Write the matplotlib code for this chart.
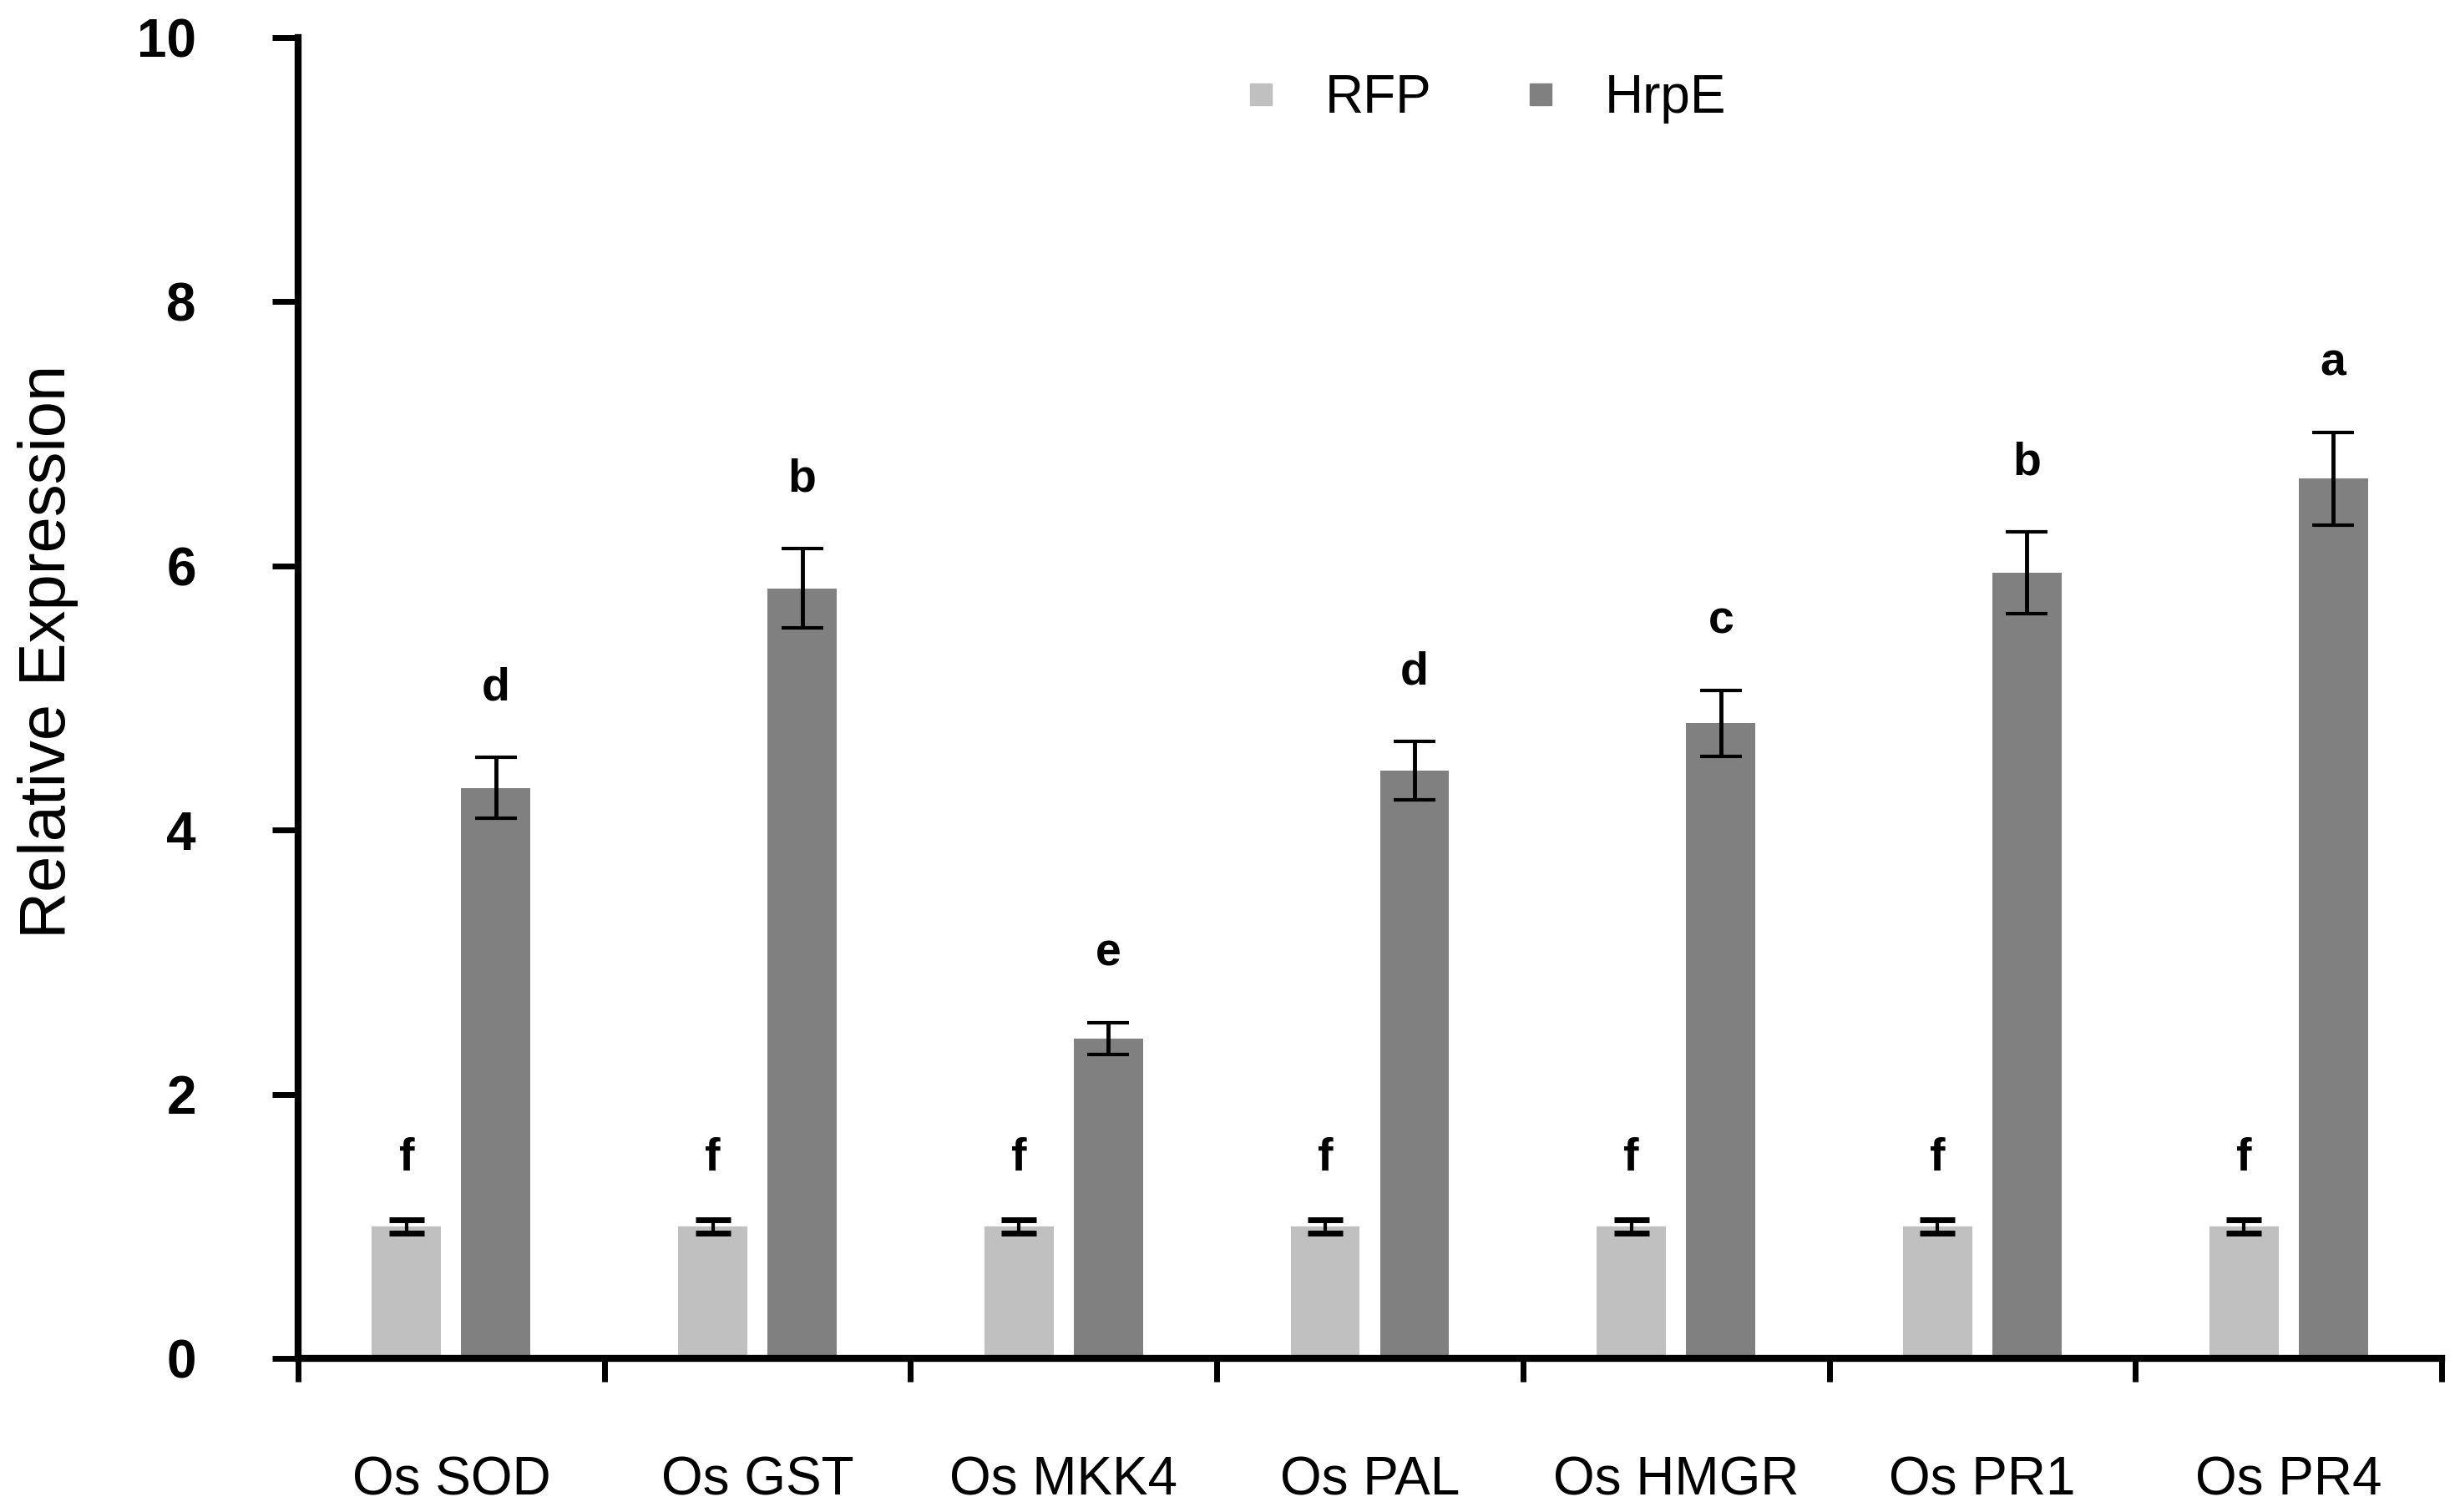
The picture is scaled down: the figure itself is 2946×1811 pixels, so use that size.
import matplotlib
matplotlib.use("Agg")
import matplotlib.pyplot as plt
import numpy as np
from matplotlib.lines import Line2D

categories = ["Os SOD", "Os GST", "Os MKK4", "Os PAL", "Os HMGR", "Os PR1", "Os PR4"]
rfp_values = [1.0, 1.0, 1.0, 1.0, 1.0, 1.0, 1.0]
rfp_errors = [0.05, 0.05, 0.05, 0.05, 0.05, 0.05, 0.05]
hrpe_values = [4.32, 5.83, 2.42, 4.45, 4.81, 5.95, 6.66]
hrpe_errors = [0.23, 0.30, 0.12, 0.22, 0.25, 0.31, 0.35]
rfp_letters = ["f", "f", "f", "f", "f", "f", "f"]
hrpe_letters = ["d", "b", "e", "d", "c", "b", "a"]
y_ticks = [0, 2, 4, 6, 8, 10]

plt.rcParams['font.family'] = ['Liberation Sans', 'DejaVu Sans']

W, H = 2946, 1811
fig = plt.figure(figsize=(W / 100, H / 100), dpi=100)
ax = fig.add_axes([357 / W, 1 - 1627 / H, (2924 - 357) / W, (1627 - 45) / H])

x = np.arange(len(categories))
bw = 0.226
off = 0.146
c_rfp = "#c0c0c0"
c_hrpe = "#808080"

ax.bar(x - off, rfp_values, bw, color=c_rfp, zorder=2)
ax.bar(x + off, hrpe_values, bw, color=c_hrpe, zorder=2)
ax.errorbar(x - off, rfp_values, yerr=rfp_errors, fmt="none", ecolor="black",
            elinewidth=3, capsize=15, capthick=5, zorder=3)
ax.errorbar(x + off, hrpe_values, yerr=hrpe_errors, fmt="none", ecolor="black",
            elinewidth=3.5, capsize=18, capthick=3, zorder=3)

for xi, v, e, t in zip(x - off, rfp_values, rfp_errors, rfp_letters):
    ax.text(xi, v + e + 0.46, t, ha="center", va="center", fontsize=40,
            fontweight="bold")
for xi, v, e, t in zip(x + off, hrpe_values, hrpe_errors, hrpe_letters):
    ax.text(xi, v + e + 0.52, t, ha="center", va="center", fontsize=40,
            fontweight="bold")

ax.set_xlim(-0.5, len(categories) - 0.5)
ax.set_ylim(0, 10)

for s in ["top", "right"]:
    ax.spines[s].set_visible(False)
for s in ["left", "bottom"]:
    ax.spines[s].set_linewidth(6)

ax.set_yticks(y_ticks)
ax.set_yticklabels([str(t) for t in y_ticks], fontsize=46, fontweight="bold")
ax.tick_params(axis="y", direction="out", length=22, width=5, pad=66)

ax.set_xticks(x)
ax.set_xticklabels(categories, fontsize=46)
ax.tick_params(axis="x", which="major", length=0, pad=84)
ax.set_xticks(np.arange(-0.5, len(categories), 1.0), minor=True)
ax.tick_params(axis="x", which="minor", direction="out", length=20, width=5)

fig.text(58 / W, 1 - 780 / H, "Relative Expression", rotation=90,
         ha="center", va="center", fontsize=56)

handles = [Line2D([], [], marker="s", linestyle="none", markersize=19,
                  markerfacecolor=c_rfp, markeredgecolor=c_rfp),
           Line2D([], [], marker="s", linestyle="none", markersize=19,
                  markerfacecolor=c_hrpe, markeredgecolor=c_hrpe)]
leg = ax.legend(handles, ["RFP", "HrpE"], loc="center",
                bbox_to_anchor=((1779 - 357) / 2567, (1627 - 118) / 1582),
                ncol=2, frameon=False, fontsize=46, handlelength=0.6,
                handletextpad=0.9, columnspacing=1.75)

fig.savefig("out.png", dpi=100, facecolor="white")
